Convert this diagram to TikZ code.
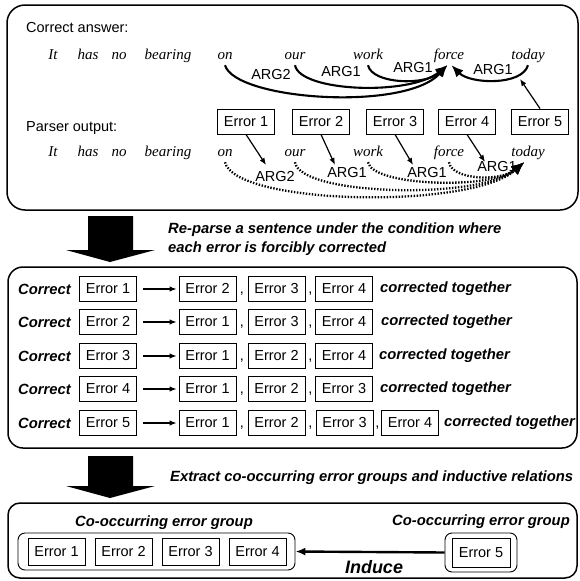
\documentclass[tikz,border=0pt]{standalone}
\usepackage{fontspec}
\setmainfont{Liberation Sans}
\newfontfamily\wordfont{Liberation Serif}
\usetikzlibrary{arrows.meta}

\tikzset{
  panel/.style={draw, line width=1.5pt, rounded corners=#1},
  panel/.default=16pt,
  errbox/.style={draw, line width=0.9pt, minimum width=57pt, minimum height=25pt,
    inner sep=1pt, font=\fontsize{14.5}{16}\selectfont},
  grpbox/.style={draw, line width=0.9pt, rounded corners=7pt, inner sep=0pt},
  word/.style={font=\wordfont\itshape\fontsize{15}{17}\selectfont, inner xsep=1pt,
    inner ysep=3pt, text height=9pt, text depth=3pt},
  lbl/.style={font=\fontsize{14.5}{16}\selectfont, inner sep=0pt},
  bitext/.style={font=\bfseries\itshape\fontsize{14.8}{16}\selectfont, inner sep=0pt},
  arcline/.style={line width=2.1pt, -{Latex[length=12pt,width=10pt]}},
  dotline/.style={line width=2.3pt, dash pattern=on 1.4pt off 1.6pt,
    -{Latex[length=13pt,width=11pt]}},
  ptr/.style={line width=1.2pt, -{Latex[length=7pt,width=5.5pt]}},
  bigarrow/.style={fill=black},
}

\begin{document}
\begin{tikzpicture}[x=1pt,y=-1pt]
\useasboundingbox (0,0) rectangle (580,581);

% ---------- upper panel ----------
\draw[panel=18pt] (7,5) rectangle (578,210);
\node[lbl, anchor=west] (hdra) at (26,28) {Correct answer:};

% sentence with the correct analysis
\node[word] (it1)    at (53,56)  {It};
\node[word] (has1)   at (88,56)  {has};
\node[word] (no1)    at (119,56) {no};
\node[word] (bear1)  at (168,56) {bearing};
\node[word] (on1)    at (225,56) {on};
\node[word] (our1)   at (295,56) {our};
\node[word] (work1)  at (368,56) {work};
\node[word] (force1) at (449,56) {force};
\node[word] (today1) at (528,56) {today};

\node[lbl] (a1) at (271,75) {ARG2};
\node[lbl] (a2) at (341,72) {ARG1};
\node[lbl] (a3) at (413,68) {ARG1};
\node[lbl] (a4) at (493,70) {ARG1};

\draw[arcline] (on1.south)   .. controls (235,100) and (405,112) .. (force1.-100);
\draw[arcline] (our1.south)  .. controls (300,92)  and (410,96)  .. (force1.-100);
\draw[arcline] (work1.south) .. controls (372,84)  and (425,86)  .. (force1.-100);
\draw[arcline] (today1.south) .. controls (522,86) and (470,84)  .. (force1.-75);

% parser output
\node[lbl, anchor=west] (hdrb) at (26,128) {Parser output:};

\node[errbox] (e1) at (246,121.5) {Error 1};
\node[errbox] (e2) at (321,121.5) {Error 2};
\node[errbox] (e3) at (395,121.5) {Error 3};
\node[errbox] (e4) at (467,121.5) {Error 4};
\node[errbox] (e5) at (540,121.5) {Error 5};

\node[word] (it2)    at (53,153)  {It};
\node[word] (has2)   at (88,153)  {has};
\node[word] (no2)    at (119,153) {no};
\node[word] (bear2)  at (168,153) {bearing};
\node[word] (on2)    at (225,153) {on};
\node[word] (our2)   at (295,153) {our};
\node[word] (work2)  at (368,153) {work};
\node[word] (force2) at (449,153) {force};
\node[word] (today2) at (528,153) {today};

\node[lbl] (b1) at (275,177) {ARG2};
\node[lbl] (b2) at (347,173) {ARG1};
\node[lbl] (b3) at (427,173) {ARG1};
\node[lbl] (b4) at (497,167) {ARG1};

\draw[dotline] (on2.south)    .. controls (235,205) and (470,210) .. (today2.-112);
\draw[dotline] (our2.south)   .. controls (300,196) and (480,200) .. (today2.-112);
\draw[dotline] (work2.south)  .. controls (372,186) and (490,190) .. (today2.-112);
\draw[dotline] (force2.south) .. controls (452,180) and (500,182) .. (today2.-112);

% pointers from the error boxes
\coordinate (t1) at (266,165);
\coordinate (t2) at (335,165);
\coordinate (t3) at (413,165);
\coordinate (t4) at (485,162);
\coordinate (t5) at (520,79);
\draw[ptr] (e1.south) -- (t1);
\draw[ptr] (e2.south) -- (t2);
\draw[ptr] (e3.south) -- (t3);
\draw[ptr] (e4.south) -- (t4);
\draw[ptr] (e5.north) -- (t5);

% ---------- first big arrow ----------
\fill[bigarrow] (88,216) -- (133,216) -- (133,250) -- (155,250) -- (110,262)
  -- (66,250) -- (88,250) -- cycle;
\node[bitext, anchor=west] (stepa1) at (168,230) {Re-parse a sentence under the condition where};
\node[bitext, anchor=west] (stepa2) at (168,249) {each error is forcibly corrected};

% ---------- middle panel ----------
\draw[panel=15pt] (8,267) rectangle (577,448);

% row 1
\node[bitext, anchor=west] (c1) at (18,289) {Correct};
\node[errbox] (r1a) at (108,289) {Error 1};
\node[errbox] (r1b) at (207.5,289) {Error 2};
\node[lbl] (r1k1) at (242,294) {,};
\node[errbox] (r1c) at (276.5,289) {Error 3};
\node[lbl] (r1k2) at (310.5,294) {,};
\node[errbox] (r1d) at (344,289) {Error 4};
\node[bitext, anchor=west] (r1t) at (380,289) {corrected together};
\draw[ptr, shorten <=6pt, shorten >=2pt] (r1a.east) -- (r1b.west);

% row 2
\node[bitext, anchor=west] (c2) at (18,322) {Correct};
\node[errbox] (r2a) at (108,322) {Error 2};
\node[errbox] (r2b) at (207.5,322) {Error 1};
\node[lbl] (r2k1) at (242,327) {,};
\node[errbox] (r2c) at (276.5,322) {Error 3};
\node[lbl] (r2k2) at (310.5,327) {,};
\node[errbox] (r2d) at (344,322) {Error 4};
\node[bitext, anchor=west] (r2t) at (381,322) {corrected together};
\draw[ptr, shorten <=6pt, shorten >=2pt] (r2a.east) -- (r2b.west);

% row 3
\node[bitext, anchor=west] (c3) at (18,356) {Correct};
\node[errbox] (r3a) at (108,356) {Error 3};
\node[errbox] (r3b) at (207.5,356) {Error 1};
\node[lbl] (r3k1) at (242,361) {,};
\node[errbox] (r3c) at (276.5,356) {Error 2};
\node[lbl] (r3k2) at (310.5,361) {,};
\node[errbox] (r3d) at (344,356) {Error 4};
\node[bitext, anchor=west] (r3t) at (379,356) {corrected together};
\draw[ptr, shorten <=6pt, shorten >=2pt] (r3a.east) -- (r3b.west);

% row 4
\node[bitext, anchor=west] (c4) at (18,389) {Correct};
\node[errbox] (r4a) at (108,389) {Error 4};
\node[errbox] (r4b) at (207.5,389) {Error 1};
\node[lbl] (r4k1) at (242,394) {,};
\node[errbox] (r4c) at (276.5,389) {Error 2};
\node[lbl] (r4k2) at (310.5,394) {,};
\node[errbox] (r4d) at (344,389) {Error 3};
\node[bitext, anchor=west] (r4t) at (380,389) {corrected together};
\draw[ptr, shorten <=6pt, shorten >=2pt] (r4a.east) -- (r4b.west);

% row 5
\node[bitext, anchor=west] (c5) at (18,423) {Correct};
\node[errbox] (r5a) at (108,423) {Error 5};
\node[errbox] (r5b) at (207.5,423) {Error 1};
\node[lbl] (r5k1) at (242,428) {,};
\node[errbox] (r5c) at (276.5,423) {Error 2};
\node[lbl] (r5k2) at (310.5,428) {,};
\node[errbox] (r5d) at (344.5,423) {Error 3};
\node[lbl] (r5k3) at (377.5,428) {,};
\node[errbox] (r5e) at (410,423) {Error 4};
\node[bitext, anchor=west] (r5t) at (444,423) {corrected together};
\draw[ptr, shorten <=6pt, shorten >=2pt] (r5a.east) -- (r5b.west);

% ---------- second big arrow ----------
\fill[bigarrow] (88,456) -- (133,456) -- (133,486) -- (155,486) -- (110,498)
  -- (66,486) -- (88,486) -- cycle;
\node[bitext, anchor=west] (stepb) at (170,478) {Extract co-occurring error groups and inductive relations};

% ---------- lower panel ----------
\draw[panel=12pt] (8,503) rectangle (577,578);

\node[bitext] (gl1) at (164,523) {Co-occurring error group};
\node[bitext] (gl2) at (481,522) {Co-occurring error group};

\node[grpbox, minimum width=277pt, minimum height=37pt] (g1) at (156.5,551.5) {};
\node[grpbox, minimum width=72pt, minimum height=39pt] (g2) at (481,552.5) {};

\node[errbox, minimum height=27pt] (f1) at (56.5,551.5)  {Error 1};
\node[errbox, minimum height=27pt] (f2) at (123.5,551.5) {Error 2};
\node[errbox, minimum height=27pt] (f3) at (190.5,551.5) {Error 3};
\node[errbox, minimum height=27pt] (f4) at (257.5,551.5) {Error 4};
\node[errbox, minimum width=58pt, minimum height=29pt] (f5) at (481,552.5) {Error 5};

\draw[line width=2.4pt, -{Latex[length=10pt,width=8pt]}] (g2.west) -- (g1.east);
\node[font=\bfseries\itshape\fontsize{18}{20}\selectfont, inner sep=0pt] (ind) at (374,567) {Induce};

\end{tikzpicture}
\end{document}
